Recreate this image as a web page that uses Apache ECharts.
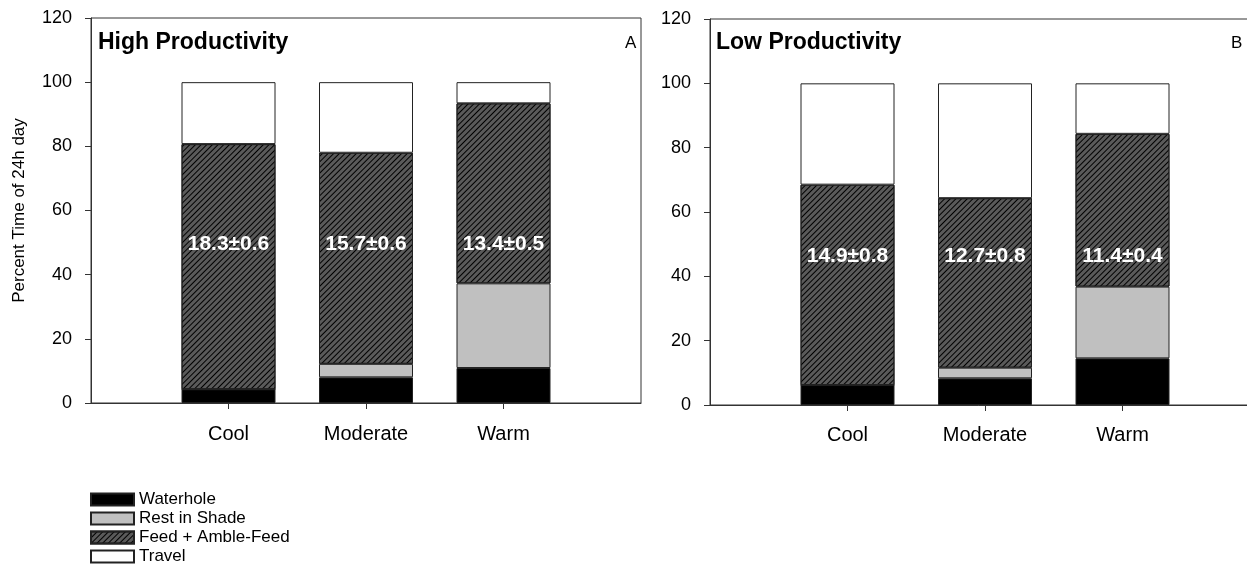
<!DOCTYPE html>
<html>
<head>
<meta charset="utf-8">
<script src="https://cdn.jsdelivr.net/npm/echarts@6/dist/echarts.min.js"></script>
<style>
html,body{margin:0;padding:0;background:#fff;}
#chart{width:1247px;height:583px;}
</style>
</head>
<body>
<div id="chart"></div>
<script>
// ---- data ----
const categories = ['Cool', 'Moderate', 'Warm'];
const seriesNames = ['Waterhole', 'Rest in Shade', 'Feed + Amble-Feed', 'Travel'];

const highWaterhole = [4.3, 8.0, 10.9];
const highRest      = [0.0, 4.2, 26.4];
const highFeed      = [76.4, 65.8, 56.1];
const highTravel    = [19.3, 22.0, 6.6];
const highLabels    = ['18.3±0.6', '15.7±0.6', '13.4±0.5'];

const lowWaterhole  = [6.2, 8.3, 14.5];
const lowRest       = [0.0, 3.3, 22.3];
const lowFeed       = [62.3, 52.7, 47.5];
const lowTravel     = [31.5, 35.7, 15.7];
const lowLabels     = ['14.9±0.8', '12.7±0.8', '11.4±0.4'];

const yTicks = [0, 20, 40, 60, 80, 100, 120];

// ---- chart ----
const FONT = "'Liberation Sans', Arial, sans-serif";
const AXIS_COLOR = '#333';
const pad = arr => [null].concat(arr, [null]);
const axisCats = [''].concat(categories, ['']);

const styles = [
  {color: '#000000'},
  {color: '#c0c0c0'},
  {color: '#5a5a5a', decal: {symbol: 'rect', symbolSize: 1, color: '#000', dashArrayX: [1, 0], dashArrayY: [1, 3], rotation: -Math.PI / 4}},
  {color: '#ffffff'}
];

function barSeries(gridIdx, stackName, arrays) {
  return arrays.map((arr, i) => ({
    name: seriesNames[i],
    type: 'bar',
    stack: stackName,
    xAxisIndex: gridIdx,
    yAxisIndex: gridIdx,
    barWidth: 94,
    data: pad(arr),
    itemStyle: Object.assign({borderColor: '#222', borderWidth: 1}, styles[i]),
    emphasis: {disabled: true},
    animation: false
  }));
}

function labelSeries(gridIdx, labels, yVal) {
  return {
    type: 'scatter',
    xAxisIndex: gridIdx,
    yAxisIndex: gridIdx,
    symbolSize: 0,
    silent: true,
    z: 10,
    data: labels.map((t, i) => ({value: [i + 1, yVal], name: t})),
    label: {
      show: true, position: 'inside', formatter: p => p.name,
      color: '#ffffff', fontWeight: 'bold', fontSize: 21, fontFamily: FONT,
      textBorderWidth: 0, opacity: 1
    },
    emphasis: {disabled: true},
    animation: false
  };
}

function xAxis(gridIdx) {
  return {
    type: 'category', gridIndex: gridIdx, data: axisCats, boundaryGap: false,
    axisLine: {lineStyle: {color: AXIS_COLOR, width: 1}},
    axisTick: {show: true, length: 6, inside: false, interval: (i) => i >= 1 && i <= 3, lineStyle: {color: AXIS_COLOR}},
    axisLabel: {interval: 0, color: '#000', fontSize: 20, fontFamily: FONT, margin: gridIdx === 0 ? 21 : 20},
    splitLine: {show: false}
  };
}

function yAxis(gridIdx, withName) {
  const ax = {
    type: 'value', gridIndex: gridIdx, min: yTicks[0], max: yTicks[yTicks.length - 1], interval: 20,
    axisLine: {show: true, lineStyle: {color: AXIS_COLOR, width: 1}},
    axisTick: {show: true, length: 6, lineStyle: {color: AXIS_COLOR}},
    axisLabel: {color: '#000', fontSize: 18, fontFamily: FONT, margin: 19},
    splitLine: {show: false}
  };
  if (withName) {
    Object.assign(ax, {name: 'Percent Time of 24h day', nameLocation: 'middle', nameGap: 63,
      nameTextStyle: {color: '#000', fontSize: 17, fontFamily: FONT}});
  }
  return ax;
}

const option = {
  backgroundColor: '#fff',
  animation: false,
  grid: [
    {left: 91, top: 18, width: 550, height: 385, show: true, borderColor: AXIS_COLOR, borderWidth: 1,
      backgroundColor: 'transparent', outerBoundsMode: 'none', containLabel: false},
    {left: 710, top: 19, width: 550, height: 386, show: true, borderColor: AXIS_COLOR, borderWidth: 1,
      backgroundColor: 'transparent', outerBoundsMode: 'none', containLabel: false}
  ],
  title: [
    {text: 'High Productivity', left: 93, top: 26, padding: 5, textStyle: {fontWeight: 'bold', fontSize: 23, fontFamily: FONT, color: '#000'}},
    {text: 'A', left: 620, top: 30, padding: 5, textStyle: {fontWeight: 'normal', fontSize: 17, fontFamily: FONT, color: '#000'}},
    {text: 'Low Productivity', left: 711, top: 26, padding: 5, textStyle: {fontWeight: 'bold', fontSize: 23, fontFamily: FONT, color: '#000'}},
    {text: 'B', left: 1226, top: 30, padding: 5, textStyle: {fontWeight: 'normal', fontSize: 17, fontFamily: FONT, color: '#000'}}
  ],
  legend: {
    orient: 'vertical', left: 90, top: 491, padding: 0, itemWidth: 43, itemHeight: 12, itemGap: 2,
    data: seriesNames, icon: 'rect', selectedMode: false,
    textStyle: {fontSize: 17, lineHeight: 17, fontFamily: FONT, color: '#000'}
  },
  xAxis: [xAxis(0), xAxis(1)],
  yAxis: [yAxis(0, true), yAxis(1, false)],
  series: [].concat(
    barSeries(0, 'high', [highWaterhole, highRest, highFeed, highTravel]),
    barSeries(1, 'low', [lowWaterhole, lowRest, lowFeed, lowTravel]),
    [labelSeries(0, highLabels, 49.5), labelSeries(1, lowLabels, 46.4)]
  )
};

const chart = echarts.init(document.getElementById('chart'), null, {renderer: 'canvas'});
chart.setOption(option);
</script>
</body>
</html>
